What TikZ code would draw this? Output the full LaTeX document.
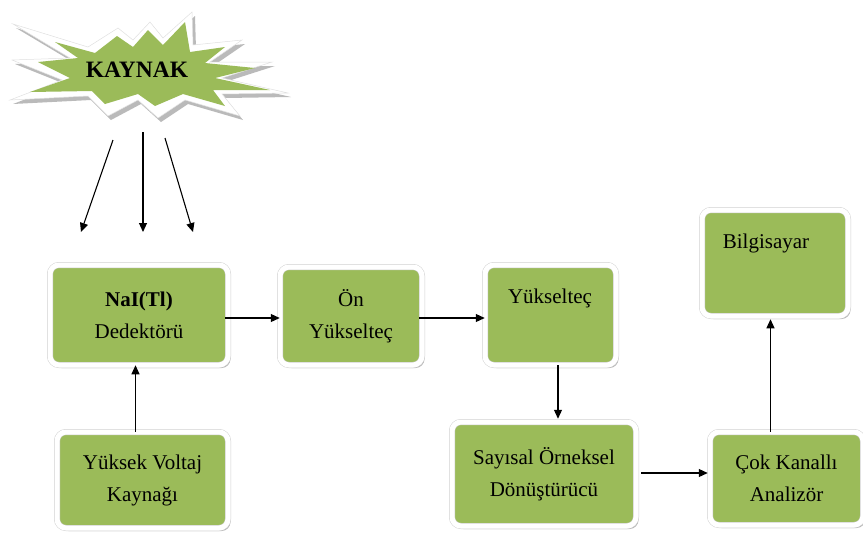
\documentclass[tikz,border=0pt]{standalone}
\usepackage{fontspec}
\setmainfont{Liberation Serif}
\newfontfamily\tnr{Liberation Serif}
\usetikzlibrary{arrows.meta,shadows,calc}
\definecolor{boxgreen}{HTML}{9BBB59}
\newcommand{\kwhite}{(13,24) -- (88,47) -- (118,28) -- (133,40) -- (150,22) -- (163,38) -- (192,12) -- (193,45) -- (242,40) -- (210,62) -- (272,62) -- (222,78) -- (288,93) -- (222,94) -- (240,116) -- (185,100) -- (158,118) -- (138,100) -- (108,116) -- (88,96) -- (10,100) -- (62,80) -- (12,60) -- (70,58) -- cycle}
\newcommand{\kgreen}{(55,42) -- (95,53) -- (117,36) -- (133,47) -- (148,30) -- (163,45) -- (185,22) -- (190,52) -- (225,47) -- (205,63) -- (255,68) -- (215,78) -- (270,90) -- (213,90) -- (225,106) -- (183,94) -- (155,106) -- (138,94) -- (105,104) -- (92,91) -- (30,92) -- (70,78) -- (38,62) -- (78,58) -- cycle}
\begin{document}
\begin{tikzpicture}[x=1pt,y=-1pt,
  box/.style={fill=boxgreen, draw=black!18, double=white, double distance=5pt, line width=0.5pt,
    rounded corners=9pt, align=center, inner sep=0pt, font=\tnr\fontsize{21}{32}\selectfont,
    drop shadow={shadow xshift=2.5pt, shadow yshift=-3pt, fill=black!50, opacity=0.55}},
  txt/.style={font=\tnr\fontsize{21}{32}\selectfont, inner sep=0pt},
  arr/.style={-{Triangle[length=9pt,width=8pt]}, line width=1.1pt, black}]
\useasboundingbox (0,0) rectangle (863,539);

% starburst
\fill[black!45, opacity=0.6, shift={(3,4)}] \kwhite;
\filldraw[fill=white, draw=black!12, line width=0.5pt] \kwhite;
\fill[boxgreen] \kgreen;
\node[font=\tnr\fontsize{23.5}{27}\selectfont\bfseries, inner sep=0pt] (kaynak) at (137,70) {KAYNAK};

% boxes
\node[box, minimum width=178pt, minimum height=100pt] (nai) at (139,315) {\textbf{NaI(Tl)}\\Dedektörü};
\node[box, minimum width=142pt, minimum height=98pt] (on) at (351,316) {Ön\\Yükselteç};
\node[box, minimum width=131pt, minimum height=100pt] (yuk) at (550.5,315) {};
\node[txt] (yukt) at (550,298) {Yükselteç};
\node[box, minimum width=184pt, minimum height=104pt] (say) at (544,474) {Sayısal Örneksel\\Dönüştürücü};
\node[box, minimum width=153pt, minimum height=93pt] (cok) at (786.5,478.5) {Çok Kanallı\\Analizör};
\node[box, minimum width=146pt, minimum height=106pt] (bil) at (775,263) {};
\node[txt] (bilt) at (766,243) {Bilgisayar};
\node[box, minimum width=171pt, minimum height=96pt] (hv) at (142.5,480) {Yüksek Voltaj\\Kaynağı};

% arrows from source
\coordinate (s1) at (113,140); \coordinate (e1) at (81,232);
\coordinate (s2) at (143,132); \coordinate (e2) at (143,232);
\coordinate (s3) at (165,138); \coordinate (e3) at (193,232);
\draw[arr] (s1) -- (e1);
\draw[arr] (s2) -- (e2);
\draw[arr] (s3) -- (e3);

% connectors
\draw[arr, shorten <=-3pt] ([yshift=-3pt]nai.east) -- ([yshift=-3pt]nai.east -| on.west);
\draw[arr, shorten <=-3pt] ([yshift=-2pt]on.east) -- ([yshift=-2pt]on.east -| yuk.west);
\draw[arr, shorten >=3pt] ([xshift=7.5pt]yuk.south) -- ([xshift=7.5pt]yuk.south |- say.north);
\draw[arr, shorten <=5pt, shorten >=2pt] ([yshift=1pt]say.east) -- ([yshift=1pt]say.east -| cok.west);
\draw[arr, shorten >=3pt] ([xshift=-16pt]cok.north) -- ([xshift=-16pt]cok.north |- bil.south);
\draw[arr] ([xshift=-7pt]hv.north) -- ([xshift=-7pt]hv.north |- nai.south);
\end{tikzpicture}
\end{document}
